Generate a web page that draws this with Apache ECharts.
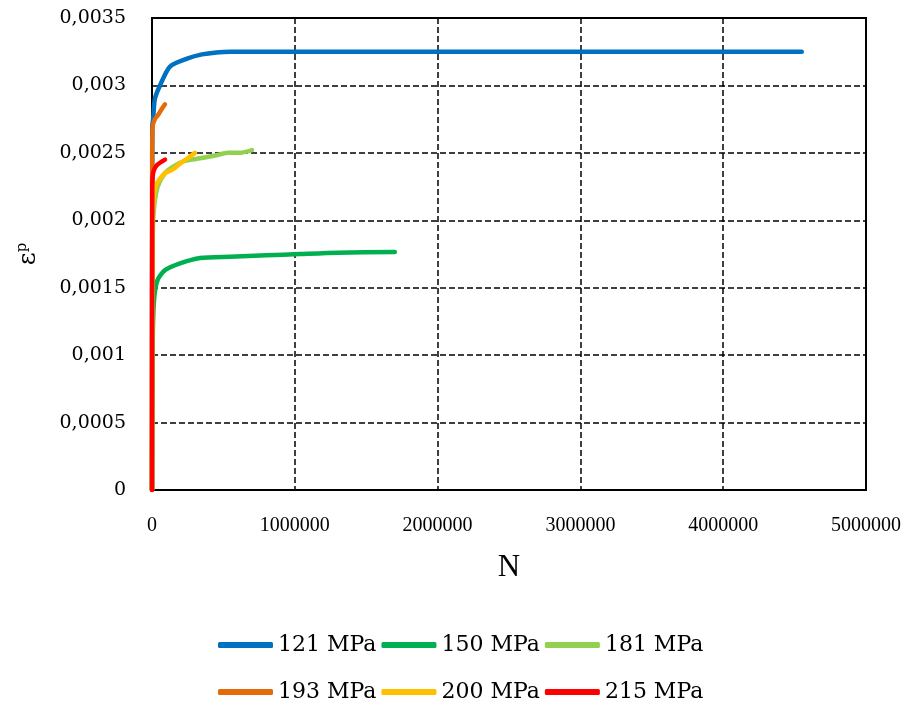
<!DOCTYPE html>
<html>
<head>
<meta charset="utf-8">
<script src="https://cdn.jsdelivr.net/npm/echarts@6/dist/echarts.min.js"></script>
<style>html,body{margin:0;padding:0;background:#fff}#c{width:922px;height:704px}</style>
</head>
<body>
<div id="c"></div>
<script>
var seriesNames = ['121 MPa','150 MPa','181 MPa','193 MPa','200 MPa','215 MPa'];
var seriesColors = ['#0070C0','#00B050','#92D050','#E36C09','#FFC000','#FF0000'];

var n121 = [0, 2000, 8000, 20000, 56000, 126000, 250000, 350000, 450000, 550000, 700000, 1000000, 2000000, 3000000, 4000000, 4550000];
var e121 = [0, 0.0027, 0.00275, 0.0029, 0.003, 0.00314, 0.0032, 0.00323, 0.003245, 0.00325, 0.00325, 0.00325, 0.00325, 0.00325, 0.00325, 0.00325];

var n150 = [0, 5000, 15000, 40000, 91000, 196000, 336000, 546000, 800000, 1036000, 1300000, 1700000];
var e150 = [0, 0.0011, 0.00142, 0.00156, 0.00163, 0.00168, 0.00172, 0.00173, 0.00174, 0.00175, 0.00176, 0.001764];

var n181 = [0, 5000, 15000, 40000, 91000, 150000, 231000, 336000, 441000, 532000, 616000, 700000];
var e181 = [0, 0.0019, 0.0021, 0.00225, 0.00235, 0.0024, 0.00244, 0.00246, 0.00248, 0.0025, 0.0025, 0.00252];

var n193 = [0, 1000, 5000, 20000, 42000, 65000, 91000];
var e193 = [0, 0.0024, 0.0027, 0.00275, 0.00278, 0.00282, 0.00286];

var n200 = [0, 3000, 10000, 25000, 50000, 91000, 150000, 196000, 250000, 301000];
var e200 = [0, 0.0019, 0.00215, 0.00225, 0.0023, 0.00235, 0.00238, 0.00242, 0.00246, 0.0025];

var n215 = [0, 2000, 10000, 35000, 91000];
var e215 = [0, 0.00226, 0.00236, 0.00241, 0.00245];

var xTickLabels = ['0','1000000','2000000','3000000','4000000','5000000'];
var yTickLabels = ['0','0,0005','0,001','0,0015','0,002','0,0025','0,003','0,0035'];

var allN = [n121, n150, n181, n193, n200, n215];
var allE = [e121, e150, e181, e193, e200, e215];

function pairs(n, e){ return n.map(function(v,i){ return [v, e[i]]; }); }

var series = seriesNames.map(function(name, i){
  return {
    name: name, type: 'line', data: pairs(allN[i], allE[i]),
    symbol: 'none', smooth: 0.25,
    lineStyle: { color: seriesColors[i], width: 4.5, cap: 'round', join: 'round' },
    itemStyle: { color: seriesColors[i] }
  };
});

var chart = echarts.init(document.getElementById('c'), null, {renderer: 'canvas'});
var legendCommon = {
  left: 218, padding: 0, itemWidth: 55, itemHeight: 6, itemGap: 5, icon: 'roundRect',
  textStyle: { fontFamily: 'DejaVu Serif', fontSize: 22, color: '#000' }
};
chart.setOption({
  animation: false,
  backgroundColor: '#fff',
  grid: { left: 152, right: 56, top: 18, bottom: 214, show: true, borderColor: '#000', borderWidth: 2 },
  legend: [
    Object.assign({ top: 634, data: seriesNames.slice(0,3) }, legendCommon),
    Object.assign({ top: 681, data: seriesNames.slice(3) }, legendCommon)
  ],
  xAxis: {
    type: 'value', min: 0, max: 5000000, interval: 1000000,
    name: 'N', nameLocation: 'middle', nameGap: 62,
    nameTextStyle: { fontFamily: 'Liberation Serif', fontSize: 31, color: '#000' },
    axisLine: { lineStyle: { color: '#000', width: 2 } },
    axisTick: { show: false },
    axisLabel: { margin: 26, fontFamily: 'Liberation Serif', fontSize: 20, color: '#000',
      formatter: function(v, i){ return xTickLabels[i]; } },
    splitLine: { show: true, lineStyle: { color: '#000', width: 1.5, type: [6, 3] } }
  },
  yAxis: {
    type: 'value', min: 0, max: 0.0035, interval: 0.0005,
    name: '{e|ε}{s|p}', nameLocation: 'middle', nameGap: 110, nameRotate: 90,
    nameTextStyle: { color: '#000', rich: {
      e: { fontFamily: 'DejaVu Serif', fontSize: 25, color: '#000' },
      s: { fontFamily: 'DejaVu Serif', fontSize: 15, color: '#000', padding: [0,0,12,0] }
    } },
    axisLine: { lineStyle: { color: '#000', width: 2 } },
    axisTick: { show: false },
    axisLabel: { margin: 26, fontFamily: 'DejaVu Serif', fontSize: 19, color: '#000',
      formatter: function(v, i){ return yTickLabels[i]; } },
    splitLine: { show: true, lineStyle: { color: '#000', width: 1.5, type: [6, 3] } }
  },
  series: series
});
</script>
</body>
</html>
